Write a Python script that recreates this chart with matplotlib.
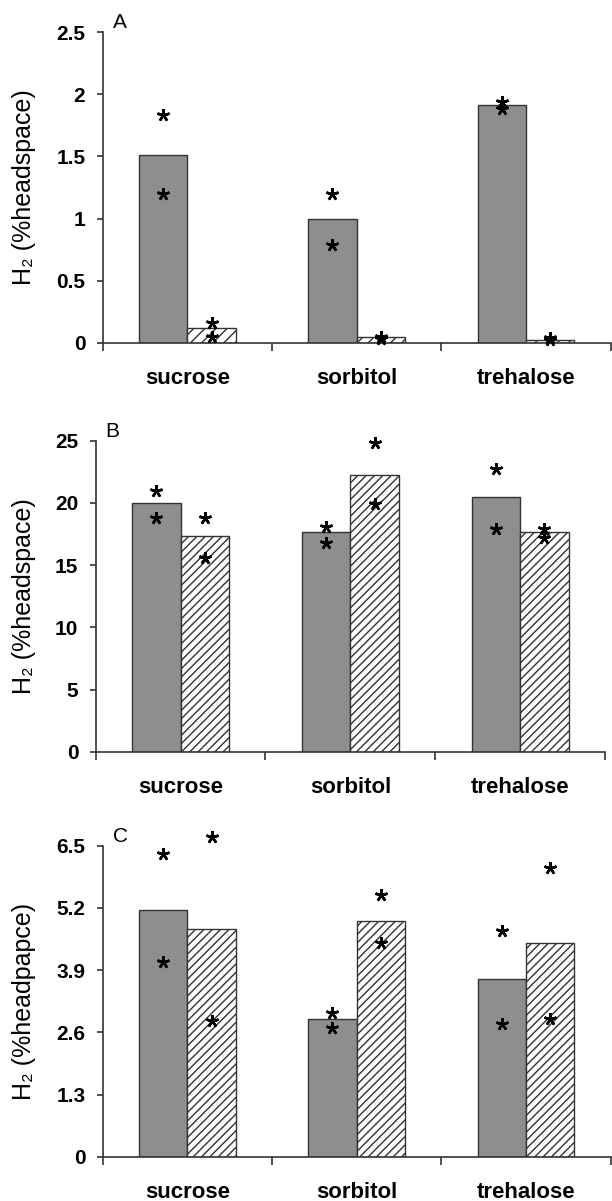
import matplotlib
matplotlib.use("Agg")
import matplotlib.pyplot as plt
import numpy as np

plt.rcParams['font.family'] = ['Liberation Sans', 'DejaVu Sans']
plt.rcParams['hatch.linewidth'] = 1.0

categories = ['sucrose', 'sorbitol', 'trehalose']

# Panel A
A_grey = [1.51, 1.00, 1.91]
A_hatch = [0.12, 0.045, 0.022]
A_grey_stars = [[1.83, 1.20], [1.20, 0.79], [1.94, 1.88]]
A_hatch_stars = [[0.16, 0.05], [0.05, 0.03], [0.04, 0.025]]
A_ticks = [0, 0.5, 1, 1.5, 2, 2.5]
A_ticklabels = ['0', '0.5', '1', '1.5', '2', '2.5']

# Panel B
B_grey = [20.0, 17.7, 20.45]
B_hatch = [17.35, 22.27, 17.7]
B_grey_stars = [[20.95, 18.8], [18.1, 16.8], [22.7, 17.9]]
B_hatch_stars = [[18.8, 15.6], [24.8, 19.9], [17.9, 17.2]]
B_ticks = [0, 5, 10, 15, 20, 25]
B_ticklabels = ['0', '5', '10', '15', '20', '25']

# Panel C
C_grey = [5.16, 2.87, 3.72]
C_hatch = [4.75, 4.93, 4.46]
C_grey_stars = [[6.33, 4.07], [3.0, 2.68], [4.71, 2.78]]
C_hatch_stars = [[6.68, 2.84], [5.46, 4.46], [6.03, 2.88]]
C_ticks = [0, 1.3, 2.6, 3.9, 5.2, 6.5]
C_ticklabels = ['0', '1.3', '2.6', '3.9', '5.2', '6.5']

W, H = 612, 1201
fig = plt.figure(figsize=(W / 100, H / 100), dpi=100)

panels = [
    dict(letter='A', grey=A_grey, hatch=A_hatch, gs=A_grey_stars, hs=A_hatch_stars,
         ticks=A_ticks, labels=A_ticklabels, ylabel='H\u2082 (%headspace)',
         left=102.7, right=610.7, top=32, hpat='///'),
    dict(letter='B', grey=B_grey, hatch=B_hatch, gs=B_grey_stars, hs=B_hatch_stars,
         ticks=B_ticks, labels=B_ticklabels, ylabel='H\u2082 (%headspace)',
         left=95.7, right=605.0, top=440.7, hpat='////'),
    dict(letter='C', grey=C_grey, hatch=C_hatch, gs=C_grey_stars, hs=C_hatch_stars,
         ticks=C_ticks, labels=C_ticklabels, ylabel='H\u2082 (%headpapce)',
         left=102.7, right=610.7, top=845.7, hpat='////'),
]

axh = 311.0
bw = 0.286
edge = '#333333'
x = np.arange(len(categories))

for p in panels:
    ax = fig.add_axes([p['left'] / W, 1 - (p['top'] + axh) / H,
                       (p['right'] - p['left']) / W, axh / H])
    ax.bar(x - bw / 2, p['grey'], width=bw, color='#8e8e8e', edgecolor=edge, linewidth=1.0)
    ax.bar(x + bw / 2, p['hatch'], width=bw, color='white', edgecolor=edge,
           linewidth=1.0, hatch=p['hpat'])
    for i in range(len(categories)):
        ax.plot([x[i] - bw / 2] * len(p['gs'][i]), p['gs'][i], linestyle='none',
                marker=(5, 2, 0), ms=9, mew=1.8, color='black', clip_on=False, zorder=5)
        ax.plot([x[i] + bw / 2] * len(p['hs'][i]), p['hs'][i], linestyle='none',
                marker=(5, 2, 0), ms=9, mew=1.8, color='black', clip_on=False, zorder=5)
    ax.set_xlim(-0.5, 2.5)
    ax.set_ylim(p['ticks'][0], p['ticks'][-1])
    ax.set_yticks(p['ticks'])
    ax.set_yticklabels(p['labels'], fontsize=15, fontweight='bold')
    ax.set_xticks(x)
    ax.set_xticklabels(categories, fontsize=16, fontweight='bold')
    ax.set_xticks([-0.5, 0.5, 1.5, 2.5], minor=True)
    ax.tick_params(axis='x', which='major', length=0, pad=18)
    ax.tick_params(axis='x', which='minor', length=5.5, width=1.2, color=edge, direction='out')
    ax.tick_params(axis='y', length=4.5, width=1.2, color=edge, direction='out', pad=8)
    for s in ['top', 'right']:
        ax.spines[s].set_visible(False)
    for s in ['left', 'bottom']:
        ax.spines[s].set_color(edge)
        ax.spines[s].set_linewidth(1.2)
    ax.text(10 / (p['right'] - p['left']), 1.0, p['letter'], transform=ax.transAxes,
            fontsize=15, ha='left', va='bottom')
    fig.text(24 / W, 1 - (p['top'] + axh / 2) / H, p['ylabel'], rotation=90,
             ha='center', va='center', fontsize=18)

fig.savefig('out.png', dpi=100)
